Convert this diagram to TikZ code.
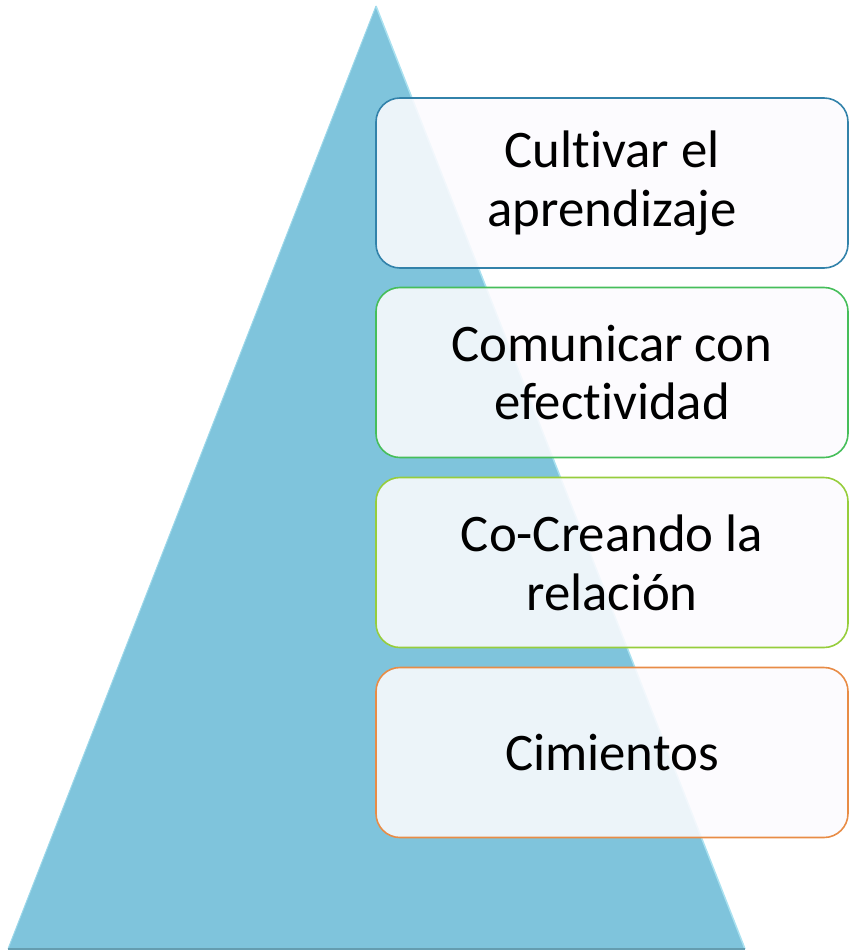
\documentclass[tikz,border=0pt]{standalone}
\usepackage{fontspec}
\setmainfont{Carlito}[Ligatures={NoCommon}]
\definecolor{tri}{RGB}{127,196,220}
\definecolor{trilight}{RGB}{170,225,240}
\definecolor{boxfill}{RGB}{252,251,254}
\definecolor{bdA}{RGB}{50,130,170}
\definecolor{bdB}{RGB}{70,190,90}
\definecolor{bdC}{RGB}{150,205,60}
\definecolor{bdD}{RGB}{232,140,70}
\tikzset{
  level/.style={draw=#1, line width=1.6bp, fill=boxfill, fill opacity=0.88, text opacity=1,
    rounded corners=24bp, minimum width=472bp, minimum height=170bp, inner sep=0pt,
    align=center, font=\fontsize{53}{59}\selectfont, text=black}
}
\begin{document}
\begin{tikzpicture}[x=1bp,y=-1bp]
\useasboundingbox (0,0) rectangle (850,951);
\coordinate (apex) at (376,6);
\coordinate (bl) at (8,949);
\coordinate (br) at (745,949);
\fill[tri] (apex) -- (br) -- (bl) -- cycle;
\draw[trilight, line width=1.5bp] (apex) -- (br);
\draw[trilight!70!tri, line width=1bp] (apex) -- (bl);
\draw[tri!80!black, line width=1.5bp] (bl) -- (br);
\node[level=bdA] (l1) at (612,183) {Cultivar el\\aprendizaje};
\node[level=bdB] (l2) at (612,372.5) {Comunicar con\\efectividad};
\node[level=bdC] (l3) at (612,562.5) {Co-Creando la\\relación};
\node[level=bdD] (l4) at (612,752.5) {Cimientos};
\end{tikzpicture}
\end{document}
